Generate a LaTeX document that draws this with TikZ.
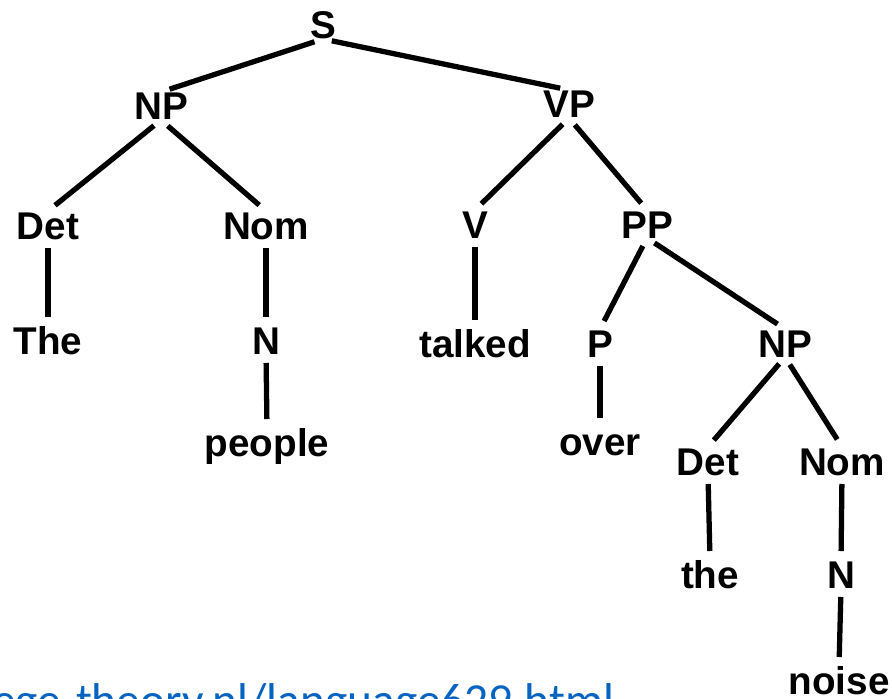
\documentclass[tikz,border=0pt]{standalone}
\usepackage{fontspec}
\setmainfont{Liberation Sans}
\newfontfamily\linkfont{Carlito}
\definecolor{linkblue}{RGB}{5,99,193}
\tikzset{
  cat/.style={anchor=base, inner sep=0pt, outer sep=0pt, text height=0.56cm, text depth=0pt,
    font=\fontsize{22}{24}\selectfont\bfseries},
  branch/.style={line width=3pt, shorten <=0.18cm, shorten >=0.18cm}
}
\begin{document}
\begin{tikzpicture}[x=0.02cm, y=-0.02cm]
  \useasboundingbox (0,0) rectangle (892,699);
  \clip (0,0) rectangle (892,699);

  % Categories
  \node[cat] (S)    at (323,39)  {S};
  \node[cat] (NP)   at (161,120) {NP};
  \node[cat] (VP)   at (569,118) {VP};
  \node[cat] (Det)  at (48,239)  {Det};
  \node[cat] (Nom)  at (266,239) {Nom};
  \node[cat] (V)    at (475,238) {V};
  \node[cat] (PP)   at (647,238) {PP};
  \node[cat] (N)    at (266,354) {N};
  \node[cat] (P)    at (600,357) {P};
  \node[cat] (NPb)  at (785,357) {NP};
  \node[cat] (Detb) at (708,475) {Det};
  \node[cat] (Nomb) at (842,475) {Nom};
  \node[cat] (Nb)   at (841,588) {N};

  % Words
  \node[cat] (the1)   at (48,354)  {The};
  \node[cat] (people) at (267,456) {people};
  \node[cat] (talked) at (475,357) {talked};
  \node[cat] (over)   at (600,455) {over};
  \node[cat] (the2)   at (710,588) {the};
  \node[cat] (noise)  at (839,694) {noise};

  % Branches
  \draw[branch] (S.south) -- (NP.north);
  \draw[branch] (S.south) -- (VP.north);
  \draw[branch] (NP.south) -- (Det.north);
  \draw[branch] (NP.south) -- (Nom.north);
  \draw[branch] (Det.south) -- (the1.north);
  \draw[branch] (Nom.south) -- (N.north);
  \draw[branch] (N.south) -- (people.north);
  \draw[branch] (VP.south) -- (V.north);
  \draw[branch] (VP.south) -- (PP.north);
  \draw[branch] (V.south) -- (talked.north);
  \draw[branch] (PP.south) -- (P.north);
  \draw[branch] (PP.south) -- (NPb.north);
  \draw[branch] (P.south) -- (over.north);
  \draw[branch] (NPb.south) -- (Detb.north);
  \draw[branch] (NPb.south) -- (Nomb.north);
  \draw[branch] (Detb.south) -- (the2.north);
  \draw[branch] (Nomb.south) -- (Nb.north);
  \draw[branch] (Nb.south) -- (noise.north);

  % Source link
  \node[anchor=base west, inner sep=0pt, text=linkblue, font=\linkfont\fontsize{27}{30}\selectfont]
    (src) at (-8,716) {ege-theory.nl/language629.html};
\end{tikzpicture}
\end{document}
